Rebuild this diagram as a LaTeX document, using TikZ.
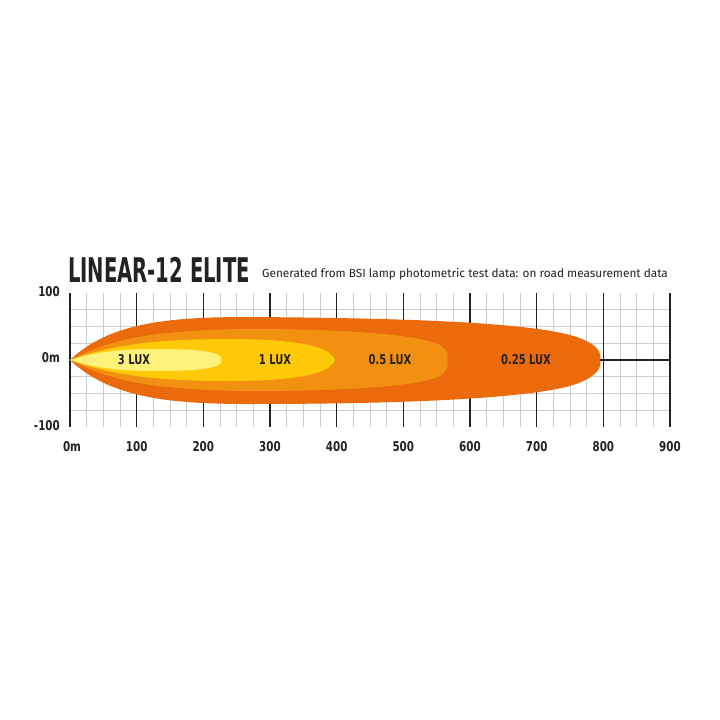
\documentclass[tikz,border=0pt]{standalone}
\usepackage{fontspec}
\setmainfont{Fira Sans}
\newfontfamily\cond{DejaVu Sans Condensed}
\definecolor{c1}{HTML}{EA6A0C}
\definecolor{c2}{HTML}{F29111}
\definecolor{c3}{HTML}{FFC907}
\definecolor{c4}{HTML}{FFF27A}
\definecolor{txt}{HTML}{222222}
\tikzset{lbl/.style={font=\cond\bfseries\fontsize{13.5}{13.5}\selectfont,text=txt,inner sep=0pt,xscale=0.82},
 ax/.style={font=\cond\bfseries\fontsize{13.5}{13.5}\selectfont,text=txt,inner sep=0pt,xscale=0.85}}
\begin{document}
\begin{tikzpicture}[x=1pt,y=-1pt]
\useasboundingbox (0,0) rectangle (720,720);
\fill[white] (0,0) rectangle (720,720);
% minor grid
\foreach \i in {1,...,35}{\draw[gray!40,line width=0.8pt] ({70+\i*16.6667},293) -- ({70+\i*16.6667},427);}
\foreach \j in {1,...,7}{\draw[gray!40,line width=0.8pt] (70,{293+\j*16.75}) -- (670,{293+\j*16.75});}
\foreach \i in {0,...,9}{\draw[txt,line width=1.3pt] ({70+\i*66.6667},293) -- ({70+\i*66.6667},427);}
% beams
\fill[c1] (70,360) .. controls (110,322) and (170,317) .. (250,317) .. controls (400,318) and (520,322) .. (570,335) .. controls (600,343) and (602,355) .. (600,360)
 .. controls (602,365) and (600,377) .. (570,386) .. controls (520,399) and (400,404) .. (250,404) .. controls (170,404) and (110,398) .. (70,360) -- cycle;
\fill[c2] (70,360) .. controls (120,333) and (180,330) .. (250,329) .. controls (350,329) and (420,335) .. (440,345) .. controls (450,352) and (448,358) .. (447,360)
 .. controls (448,363) and (450,369) .. (440,376) .. controls (420,386) and (350,391) .. (250,391) .. controls (180,390) and (120,387) .. (70,360) -- cycle;
\fill[c3] (70,360) .. controls (120,342) and (170,339) .. (230,339) .. controls (290,339) and (330,345) .. (335,360)
 .. controls (330,375) and (290,381) .. (230,381) .. controls (170,381) and (120,378) .. (70,360) -- cycle;
\fill[c4] (70,360) .. controls (100,350) and (130,349) .. (160,349) .. controls (200,349) and (222,352) .. (222,360)
 .. controls (222,368) and (200,371) .. (160,371) .. controls (130,371) and (100,370) .. (70,360) -- cycle;
\coordinate (tip) at (600,360); \coordinate (endp) at (670,360);
\draw[txt,line width=1.3pt] (tip) -- (endp);
\node[lbl] (l3) at (134,360) {3 LUX};
\node[lbl] (l1) at (275,360) {1 LUX};
\node[lbl] (l05) at (390,360) {0.5 LUX};
\node[lbl] (l025) at (526,360) {0.25 LUX};
% axes labels
\node[ax,anchor=east] (y1) at (60,292) {100};
\node[ax,anchor=east] (y0) at (60,358) {0m};
\node[ax,anchor=east] (y2) at (60,426) {-100};
\node[ax] (x0) at (72,447) {0m};
\foreach \i/\t in {1/100,2/200,3/300,4/400,5/500,6/600,7/700,8/800,9/900}{\node[ax] (x\i) at ({70+\i*66.6667},447) {\t};}
\node[anchor=west,inner sep=0pt,font=\cond\bfseries\fontsize{34}{34}\selectfont,text=txt,xscale=0.64] (title) at (68,270) {LINEAR-12 ELITE};
\node[anchor=west,inner sep=0pt,font=\fontsize{11.8}{11.8}\selectfont\mdseries,text=txt] (sub) at (262,274) {Generated from BSI lamp photometric test data: on road measurement data};
\end{tikzpicture}
\end{document}
